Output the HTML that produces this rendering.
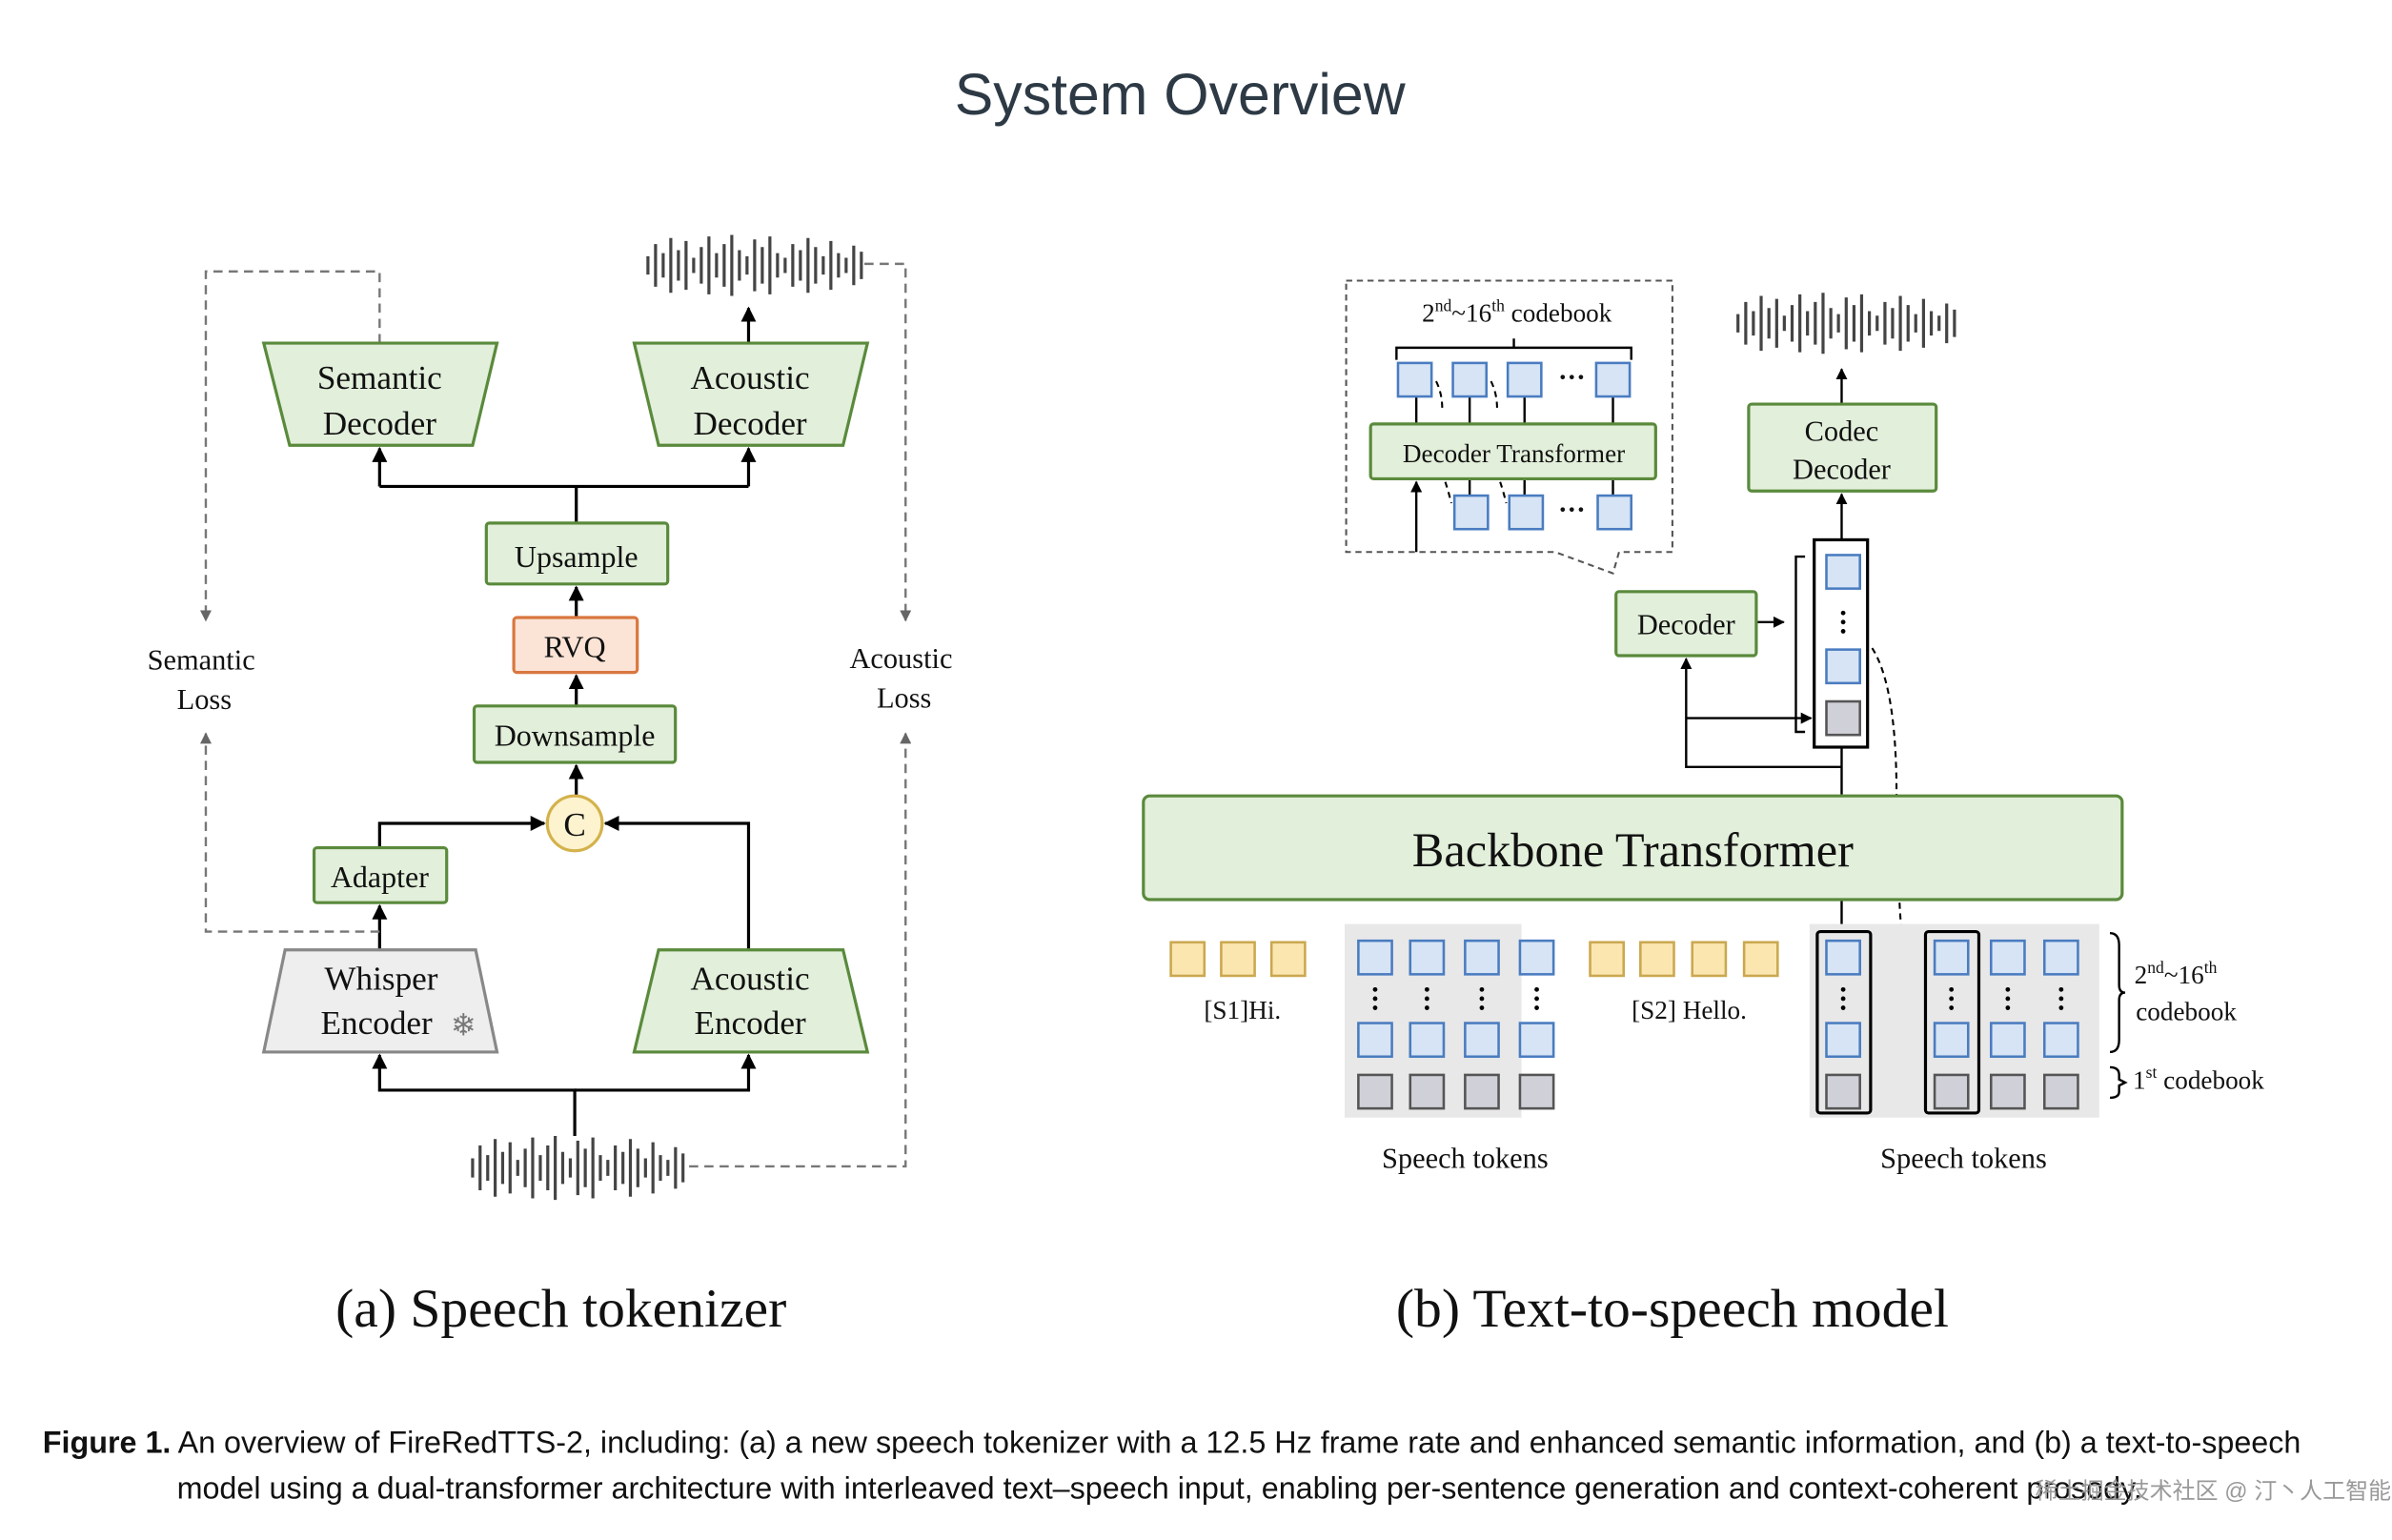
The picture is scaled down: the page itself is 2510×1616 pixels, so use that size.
<!DOCTYPE html>
<html><head><meta charset="utf-8"><style>
html,body{margin:0;padding:0;background:#fff;}
svg{display:block;}
.s{font-family:"Liberation Serif",serif;fill:#111;}
.ss{font-family:"Liberation Sans",sans-serif;}
</style></head><body>
<svg id="g" width="2510" height="1616" viewBox="0 0 1569 1010" xmlns="http://www.w3.org/2000/svg">
<defs>
<marker id="a" viewBox="0 0 10 10" refX="9" refY="5" markerWidth="5" markerHeight="5" orient="auto"><path d="M0,0L10,5L0,10z" fill="#000"/></marker>
<marker id="ag" viewBox="0 0 10 10" refX="9" refY="5" markerWidth="5" markerHeight="5" orient="auto"><path d="M0,0L10,5L0,10z" fill="#666"/></marker>
</defs>
<text x="774" y="75" text-anchor="middle" class="ss" font-size="38" fill="#2d3a45">System Overview</text>

<g stroke="#000" stroke-width="2" fill="none">
<path d="M378 343V319M249 319H491M249 319V294" marker-end="url(#a)"/>
<path d="M491 319V294" marker-end="url(#a)"/>
<path d="M378 405V385" marker-end="url(#a)"/>
<path d="M378 463V443" marker-end="url(#a)"/>
<path d="M378 522V502" marker-end="url(#a)"/>
<path d="M249 556V540H357" marker-end="url(#a)"/>
<path d="M491 623V540H397" marker-end="url(#a)"/>
<path d="M249 623V594" marker-end="url(#a)"/>
<path d="M377 745V715H249V692" marker-end="url(#a)"/>
<path d="M377 715H491V692" marker-end="url(#a)"/>
<path d="M491 225V202" marker-end="url(#a)"/>
</g>
<g stroke="#777" stroke-width="1.5" fill="none" stroke-dasharray="6,4">
<path d="M249 225V178H135V407" marker-end="url(#ag)"/>
<path d="M567 173H594V407" marker-end="url(#ag)"/>
<path d="M249 611H135V481" marker-end="url(#ag)"/>
<path d="M452 765H594V481" marker-end="url(#ag)"/>
</g>
<g stroke="#5a8a3c" stroke-width="2" fill="#e2efda">
<path d="M173 225H326L310 292H190Z"/>
<path d="M416 225H569L553 292H432Z"/>
<path d="M432 623H553L569 690H416Z"/>
<rect x="319" y="343" width="119" height="40" rx="2"/>
<rect x="311" y="463" width="132" height="37" rx="2"/>
<rect x="206" y="556" width="87" height="36" rx="2"/>
</g>
<path d="M187 623H312L326 690H173Z" fill="#eee" stroke="#888" stroke-width="2"/>
<rect x="337" y="405" width="81" height="36" rx="2" fill="#fbe3d6" stroke="#d9773f" stroke-width="2"/>
<circle cx="377" cy="540" r="18" fill="#fdf3cf" stroke="#d4b24c" stroke-width="2"/>
<g class="s" font-size="22" text-anchor="middle">
<text x="249" y="255">Semantic</text><text x="249" y="285">Decoder</text>
<text x="492" y="255">Acoustic</text><text x="492" y="285">Decoder</text>
<text x="378" y="372" font-size="20">Upsample</text>
<text x="377" y="431" font-size="20">RVQ</text>
<text x="377" y="489" font-size="20">Downsample</text>
<text x="377" y="548">C</text>
<text x="249" y="582" font-size="20">Adapter</text>
<text x="250" y="649">Whisper</text><text x="247" y="678">Encoder</text>
<text x="304" y="679" font-size="20" fill="#777">❄</text>
<text x="492" y="649">Acoustic</text><text x="492" y="678">Encoder</text>
<text x="132" y="439" font-size="19">Semantic</text><text x="134" y="465" font-size="19">Loss</text>
<text x="591" y="438" font-size="19">Acoustic</text><text x="593" y="464" font-size="19">Loss</text>
<text x="368" y="870" font-size="36">(a) Speech tokenizer</text>
<text x="1097" y="870" font-size="36">(b) Text-to-speech model</text>
</g>
<path id="w1" stroke="#444" stroke-width="2" fill="none"/>
<path id="w2" stroke="#444" stroke-width="2" fill="none"/>
<path id="w3" stroke="#444" stroke-width="2" fill="none"/>

<path d="M883 184H1097V362H1062L1058 376L1020 362H883Z" fill="none" stroke="#555" stroke-width="1.3" stroke-dasharray="4,3"/>
<text x="995" y="211" class="s" font-size="17" text-anchor="middle">2<tspan font-size="11" dy="-7">nd</tspan><tspan dy="7">~16</tspan><tspan font-size="11" dy="-7">th</tspan><tspan dy="7"> codebook</tspan></text>
<path d="M916 236V228H1070V236M993 228V222" stroke="#000" stroke-width="1.5" fill="none"/>
<g stroke="#000" stroke-width="1.5" fill="none">
<path d="M929 260V278M964 260V278M1000 260V278M1058 260V278"/>
<path d="M964 314V325M1000 314V325M1058 314V325"/>
<path d="M929 362V316" marker-end="url(#a)"/>
<path d="M1208 265V242" marker-end="url(#a)"/>
<path d="M1208 354V324" marker-end="url(#a)"/>
<path d="M1152 408H1170" marker-end="url(#a)"/>
<path d="M1208 521V490M1208 503H1106V432" marker-end="url(#a)"/>
<path d="M1106 471H1188" marker-end="url(#a)"/>
<path d="M1184 365H1178V480H1184"/>
<path d="M1208 590V609"/>
</g>
<g stroke="#000" stroke-width="1.3" fill="none" stroke-dasharray="4,3">
<path d="M942 250Q946 258 946 268M978 250Q982 258 982 268M948 316Q950 322 952 330M984 316Q986 322 988 330"/>
<path d="M1228 425Q1244 450 1244 521"/>
<path d="M1246 592Q1248 640 1262 665" marker-end="url(#a)"/>
</g>
<g stroke="#5a8a3c" stroke-width="2" fill="#e2efda">
<rect x="899" y="278" width="187" height="36" rx="2"/>
<rect x="1147" y="265" width="123" height="57" rx="2"/>
<rect x="1060" y="388" width="92" height="42" rx="2"/>
<rect x="750" y="522" width="642" height="68" rx="4"/>
</g>
<rect x="882" y="606" width="116" height="127" fill="#e8e8e8"/>
<rect x="1187" y="606" width="190" height="127" fill="#e8e8e8"/>
<rect x="1190" y="354" width="35" height="136" fill="#fff" stroke="#000" stroke-width="2"/>
<rect x="1192" y="611" width="35" height="119" rx="2" fill="none" stroke="#000" stroke-width="2"/>
<rect x="1263" y="611" width="35" height="119" rx="2" fill="none" stroke="#000" stroke-width="2"/>
<g id="sq" stroke="#4a7cc0" stroke-width="1.6" fill="#d6e4f5"></g>
<g class="s" text-anchor="middle">
<text x="993" y="303" font-size="17">Decoder Transformer</text>
<text x="1208" y="289" font-size="19">Codec</text><text x="1208" y="314" font-size="19">Decoder</text>
<text x="1106" y="416" font-size="19">Decoder</text>
<text x="1071" y="568" font-size="31.5">Backbone Transformer</text>
<text x="815" y="668" font-size="17">[S1]Hi.</text>
<text x="1108" y="668" font-size="17">[S2] Hello.</text>
<text x="961" y="766" font-size="19">Speech tokens</text>
<text x="1288" y="766" font-size="19">Speech tokens</text>
<text x="1031" y="253" font-size="18" font-weight="bold">···</text>
<text x="1031" y="340" font-size="18" font-weight="bold">···</text>
</g>
<g class="s" font-size="17">
<text x="1400" y="645">2<tspan font-size="11" dy="-7">nd</tspan><tspan dy="7">~16</tspan><tspan font-size="11" dy="-7">th</tspan></text>
<text x="1401" y="669">codebook</text>
<text x="1399" y="714">1<tspan font-size="11" dy="-7">st</tspan><tspan dy="7"> codebook</tspan></text>
</g>
<path d="M1384 612Q1390 612 1390 620V646Q1390 651 1394 651Q1390 651 1390 656V682Q1390 690 1384 690M1384 700Q1390 700 1390 705V708L1394 710L1390 712V716Q1390 720 1384 720" stroke="#000" stroke-width="1.5" fill="none"/>
<g class="ss" font-size="20.2" fill="#111">
<text x="28" y="953"><tspan font-weight="bold">Figure 1.</tspan> An overview of FireRedTTS-2, including: (a) a new speech tokenizer with a 12.5 Hz frame rate and enhanced semantic information, and (b) a text-to-speech</text>
<text x="116" y="983">model using a dual-transformer architecture with interleaved text–speech input, enabling per-sentence generation and context-coherent prosody.</text>
</g>
<text x="1335" y="983" font-family="'Liberation Sans','Noto Sans CJK SC',sans-serif" font-size="15" fill="#999">稀土掘金技术社区 @ 汀丶人工智能</text>
</svg>
<script>
var H=[6,14,8,18,10,16,5,12,19,8,14,20,10,6,17,12,19,8,5,14,10,18,12,6,16,8,5,13,9];
function wave(id,x0,x1,cy,s){var d="",n=H.length,st=(x1-x0)/(n-1);for(var i=0;i<n;i++){var x=x0+i*st,h=H[i]*s;d+="M"+x.toFixed(1)+" "+(cy-h)+"V"+(cy+h);}document.getElementById(id).setAttribute("d",d);}
wave("w1",425,565,174,1);wave("w2",310,448,766,1.05);wave("w3",1140,1282,212,1);
var g=document.getElementById("sq"),ns="http://www.w3.org/2000/svg";
function sq(x,y,f,s){var r=document.createElementNS(ns,"rect");r.setAttribute("x",x);r.setAttribute("y",y);r.setAttribute("width",22);r.setAttribute("height",22);if(f){r.setAttribute("fill",f);r.setAttribute("stroke",s);}g.appendChild(r);}
function dots(x,y){for(var k=0;k<3;k++){var c=document.createElementNS(ns,"circle");c.setAttribute("cx",x);c.setAttribute("cy",y+k*6);c.setAttribute("r",1.5);c.setAttribute("fill","#000");c.setAttribute("stroke","none");g.appendChild(c);}}
[917,953,989,1047].forEach(function(x){sq(x,238);});
[954,990,1048].forEach(function(x){sq(x,325);});
sq(1198,364);dots(1209,402);sq(1198,426);sq(1198,460,"#d0d0d8","#555");
[768,801,834,1043,1076,1110,1144].forEach(function(x){sq(x,618,"#fbe6b0","#caa84f");});
[891,925,961,997,1198,1269,1306,1341].forEach(function(x){sq(x,617);dots(x+11,649);sq(x,671);sq(x,705,"#d0d0d8","#555");});
</script>
</body></html>
